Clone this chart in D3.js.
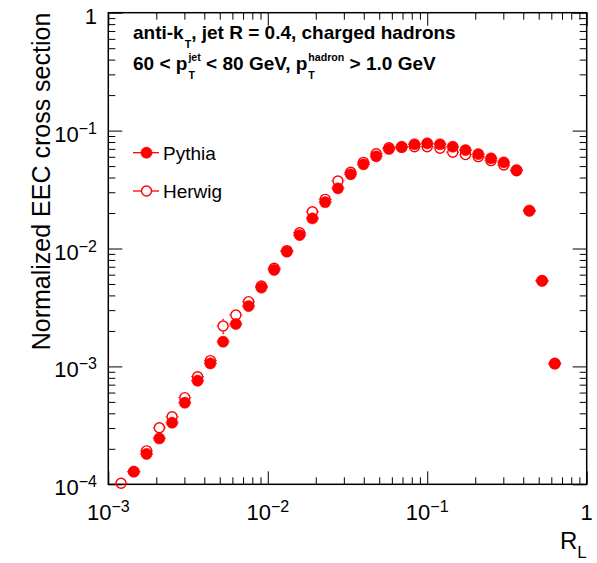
<!DOCTYPE html>
<html>
<head>
<meta charset="utf-8">
<script src="https://cdn.jsdelivr.net/npm/d3@7"></script>
<style>
  html, body { margin: 0; padding: 0; background: #fff; }
  svg { display: block; }
  text { font-family: "Liberation Sans", Arial, Helvetica, sans-serif; fill: #000; white-space: pre; }
</style>
</head>
<body>
<svg id="chart" width="597" height="563"></svg>
<script>
// R_L bin centres (log-spaced)
const rl = [0.0012023, 0.0014454, 0.0017378, 0.0020893, 0.0025119, 0.0030200, 0.0036308,
  0.0043652, 0.0052481, 0.0063096, 0.0075858, 0.0091201, 0.010965, 0.013183, 0.015849,
  0.019055, 0.022909, 0.027542, 0.033113, 0.039811, 0.047863, 0.057544, 0.069183,
  0.083176, 0.1, 0.12023, 0.14454, 0.17378, 0.20893, 0.25119, 0.30200, 0.36308,
  0.43652, 0.52481, 0.63096];

// Normalized EEC, Pythia
const pythia = [null, 1.28e-4, 1.81e-4, 2.45e-4, 3.33e-4, 4.92e-4, 7.56e-4, 1.06e-3,
  1.62e-3, 2.29e-3, 3.25e-3, 4.66e-3, 6.58e-3, 9.4e-3, 1.30e-2, 1.80e-2, 2.47e-2,
  3.24e-2, 4.26e-2, 5.18e-2, 6.05e-2, 6.98e-2, 7.30e-2, 7.66e-2, 7.80e-2, 7.66e-2,
  7.30e-2, 6.84e-2, 6.32e-2, 5.82e-2, 5.38e-2, 4.63e-2, 2.10e-2, 5.33e-3, 1.06e-3];

// Normalized EEC, Herwig
const herwig = [1.02e-4, 1.28e-4, 1.92e-4, 3.02e-4, 3.74e-4, 5.43e-4, 8.18e-4, 1.12e-3,
  2.20e-3, 2.73e-3, 3.54e-3, 4.81e-3, 6.80e-3, 9.6e-3, 1.36e-2, 2.05e-2, 2.61e-2,
  3.74e-2, 4.43e-2, 5.38e-2, 6.37e-2, 7.16e-2, 7.20e-2, 7.30e-2, 7.30e-2, 7.08e-2,
  6.55e-2, 6.26e-2, 6.01e-2, 5.56e-2, 5.11e-2, 4.57e-2, 2.08e-2, 5.30e-3, 1.05e-3];

// relative statistical uncertainties
const pythiaErr = [0, 0.05, 0.04, 0.04, 0.04, 0.03, 0.03, 0.03, 0.04, 0.03, 0.02, 0.02,
  0.02, 0.02, 0.02, 0.02, 0.01, 0.01, 0.01, 0.01, 0.01, 0.01, 0.01, 0.01, 0.01, 0.01,
  0.01, 0.01, 0.01, 0.01, 0.01, 0.01, 0.01, 0.02, 0.03];
const herwigErr = [0.06, 0.05, 0.05, 0.06, 0.05, 0.04, 0.04, 0.04, 0.15, 0.05, 0.03, 0.03,
  0.03, 0.02, 0.02, 0.02, 0.02, 0.02, 0.01, 0.01, 0.01, 0.01, 0.01, 0.01, 0.01, 0.01,
  0.01, 0.01, 0.01, 0.01, 0.01, 0.01, 0.01, 0.02, 0.03];

const xMajor = [1e-3, 1e-2, 1e-1, 1];
const xMajorExp = ["−3", "−2", "−1", null];
const yMajor = [1e-4, 1e-3, 1e-2, 1e-1, 1];
const yMajorExp = ["−4", "−3", "−2", "−1", null];

const legendNames = ["Pythia", "Herwig"];
const color = "#ff0000";

const svg = d3.select("#chart");
const L = 108.3, R = 586.7, T = 12.7, B = 484.3;

const x = d3.scaleLog().domain([1e-3, 1]).range([L, R]);
const y = d3.scaleLog().domain([1e-4, 1]).range([B, T]);

function minors(lo, hi) {
  const out = [];
  for (let d = lo; d < hi; d *= 10) for (let m = 2; m <= 9; m++) out.push(d * m);
  return out;
}
const xMinor = minors(1e-3, 1);
const yMinor = minors(1e-4, 1);

// ---- ticks on all four sides, pointing inward ----
function tickGroup(axis, tx, ty) {
  const g = svg.append("g").attr("transform", `translate(${tx},${ty})`).call(axis);
  g.select(".domain").remove();
  g.selectAll(".tick line").attr("stroke", "#000").attr("stroke-width", 1);
  g.selectAll(".tick text").remove();
  return g;
}
tickGroup(d3.axisBottom(x).tickValues(xMajor).tickSize(-13), 0, B);
tickGroup(d3.axisBottom(x).tickValues(xMinor).tickSize(-7), 0, B);
tickGroup(d3.axisTop(x).tickValues(xMajor).tickSize(-13), 0, T);
tickGroup(d3.axisTop(x).tickValues(xMinor).tickSize(-7), 0, T);
tickGroup(d3.axisLeft(y).tickValues(yMajor).tickSize(-14), L, 0);
tickGroup(d3.axisLeft(y).tickValues(yMinor).tickSize(-7), L, 0);
tickGroup(d3.axisRight(y).tickValues(yMajor).tickSize(-14), R, 0);
tickGroup(d3.axisRight(y).tickValues(yMinor).tickSize(-7), R, 0);

// frame
svg.append("rect").attr("x", L).attr("y", T).attr("width", R - L).attr("height", B - T)
  .attr("fill", "none").attr("stroke", "#000").attr("stroke-width", 1.5);

// ---- tick labels 10^n ----
function powerLabel(sel, exp) {
  if (exp === null) { sel.append("tspan").text("1"); return; }
  sel.append("tspan").text("10");
  sel.append("tspan").attr("dy", -8).attr("font-size", 16).text(exp);
}
xMajor.forEach((v, i) => {
  const t = svg.append("text").attr("x", x(v)).attr("y", 520)
    .attr("text-anchor", "middle").attr("font-size", 22);
  powerLabel(t, xMajorExp[i]);
});
yMajor.forEach((v, i) => {
  const t = svg.append("text").attr("x", 97).attr("y", y(v) + 11)
    .attr("text-anchor", "end").attr("font-size", 22);
  powerLabel(t, yMajorExp[i]);
});

// ---- axis titles ----
const xt = svg.append("text").attr("x", R).attr("y", 549).attr("text-anchor", "end")
  .attr("font-size", 24);
xt.append("tspan").text("R");
xt.append("tspan").attr("dy", 9).attr("font-size", 17).text("L");

svg.append("text").attr("transform", `translate(50,${T}) rotate(-90)`)
  .attr("text-anchor", "end").attr("font-size", 25).text("Normalized EEC cross section");

// ---- bin edges from neighbouring centres ----
const logc = rl.map(Math.log10);
const half = logc.map((c, i) => {
  const n = i < logc.length - 1 ? logc[i + 1] - c : c - logc[i - 1];
  return n / 2;
});

// ---- data series: error bars stop at the marker edge ----
const rFill = 5.6, rOpen = 5.0;
function drawSeries(vals, errs, filled) {
  const g = svg.append("g");
  const r = filled ? rFill : rOpen + 0.7;
  const pts = vals.map((v, i) => ({ v, e: errs[i], i })).filter(d => d.v !== null && d.v >= 1e-4);
  const segs = [];
  pts.forEach(d => {
    const cx = x(rl[d.i]), cy = y(d.v);
    const xl = x(Math.pow(10, logc[d.i] - half[d.i]));
    const xh = x(Math.pow(10, logc[d.i] + half[d.i]));
    const yt = y(d.v * (1 + d.e));
    const yb = y(Math.max(d.v * (1 - d.e), 1e-4));
    if (cx - r > xl) segs.push([xl, cy, cx - r, cy]);
    if (xh > cx + r) segs.push([cx + r, cy, xh, cy]);
    if (cy - r > yt) segs.push([cx, yt, cx, cy - r]);
    if (yb > cy + r) segs.push([cx, cy + r, cx, yb]);
  });
  g.selectAll("line").data(segs).join("line")
    .attr("x1", s => s[0]).attr("y1", s => s[1]).attr("x2", s => s[2]).attr("y2", s => s[3])
    .attr("stroke", color).attr("stroke-width", 1.3);
  g.selectAll("circle").data(pts).join("circle")
    .attr("cx", d => x(rl[d.i])).attr("cy", d => y(d.v))
    .attr("r", filled ? rFill : rOpen)
    .attr("fill", filled ? color : "none")
    .attr("stroke", color).attr("stroke-width", filled ? 0.5 : 1.4);
}
drawSeries(pythia, pythiaErr, true);
drawSeries(herwig, herwigErr, false);

// ---- legend ----
const legY = [152.7, 191];
legendNames.forEach((name, i) => {
  const g = svg.append("g");
  const r = i === 0 ? rFill : rOpen;
  g.append("line").attr("x1", 133).attr("x2", 159).attr("y1", legY[i]).attr("y2", legY[i])
    .attr("stroke", color).attr("stroke-width", 1.3);
  g.append("circle").attr("cx", 146.5).attr("cy", legY[i]).attr("r", r)
    .attr("fill", i === 0 ? color : "#fff").attr("stroke", color)
    .attr("stroke-width", i === 0 ? 0.5 : 1.4);
  g.append("text").attr("x", 163).attr("y", legY[i] + 7).attr("font-size", 19).text(name);
});

// ---- annotation with stacked sub/superscripts ----
function richLine(x0, y0, parts, size) {
  let cx = x0;
  const sub = size * 0.56;
  parts.forEach(p => {
    if (p.t !== undefined) {
      const t = svg.append("text").attr("x", cx).attr("y", y0).attr("font-size", size)
        .attr("font-weight", "bold").text(p.t);
      cx += t.node().getComputedTextLength();
    } else {
      let w = 0;
      if (p.sub) {
        const t = svg.append("text").attr("x", cx + 1).attr("y", y0 + 9).attr("font-size", sub)
          .attr("font-weight", "bold").text(p.sub);
        w = Math.max(w, t.node().getComputedTextLength() + 1);
      }
      if (p.sup) {
        const t = svg.append("text").attr("x", cx + 1).attr("y", y0 - 9).attr("font-size", sub)
          .attr("font-weight", "bold").text(p.sup);
        w = Math.max(w, t.node().getComputedTextLength() + 1);
      }
      cx += w;
    }
  });
}
richLine(133, 39, [{ t: "anti-k" }, { sub: "T" }, { t: ", jet R = 0.4, charged hadrons" }], 19);
richLine(133, 70, [{ t: "60 < p" }, { sub: "T", sup: "jet" }, { t: " < 80 GeV, p" },
  { sub: "T", sup: "hadron" }, { t: " > 1.0 GeV" }], 19);
</script>
</body>
</html>
